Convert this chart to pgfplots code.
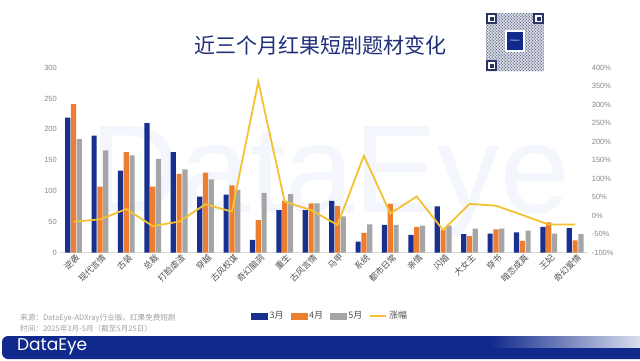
\documentclass[border=0pt]{standalone}
\usepackage{pgfplots}
\pgfplotsset{compat=1.18}
\usepackage{fontspec}
\setmainfont{Noto Sans CJK SC}
\newfontfamily\latin{Liberation Sans}
\newfontfamily\pop{Poppins}
\usetikzlibrary{fadings,patterns}
\definecolor{c3}{HTML}{18308F}
\definecolor{c4}{HTML}{ED7D31}
\definecolor{c5}{HTML}{A5A5A5}
\definecolor{cl}{HTML}{F2C230}
\definecolor{titlec}{HTML}{1F2F7A}
\definecolor{footc}{HTML}{10298C}
\definecolor{wm}{HTML}{F3F6FC}
\definecolor{xlab}{HTML}{505050}
\definecolor{ylab}{HTML}{8A8A8A}
\definecolor{srcc}{HTML}{A0A0A0}
\definecolor{qrc}{HTML}{2A3566}
\begin{document}
\begin{tikzpicture}
\path[use as bounding box] (0pt,0pt) rectangle (640pt,360pt);
\clip (0pt,0pt) rectangle (640pt,360pt);
\fill[white] (0pt,0pt) rectangle (640pt,360pt);
% watermark
\node[text=wm, font=\latin\fontsize{125}{125}\selectfont, anchor=center] at (330pt,178pt) {DataEye};
% title
\node[font=\fontsize{21}{24}\selectfont, text=titlec] at (320pt,315pt) {近三个月红果短剧题材变化};
% QR-like logo box
\fill[qrc!18] (486pt,289pt) rectangle (544pt,347pt);
\fill[pattern=crosshatch dots, pattern color=qrc!85] (486pt,289pt) rectangle (544pt,347pt);
\fill[pattern=dots, pattern color=qrc] (486pt,289pt) rectangle (544pt,347pt);
\foreach \xx/\yy in {486/336, 533/336, 486/289} {
  \fill[white] (\xx pt,\yy pt) rectangle ++(11pt,11pt);
  \draw[qrc, line width=1.4pt] (\xx pt+1pt,\yy pt+1pt) rectangle ++(9pt,9pt);
  \fill[qrc] (\xx pt+3.5pt,\yy pt+3.5pt) rectangle ++(4pt,4pt);
}
\fill[white] (505pt,308pt) rectangle (525pt,330pt);
\fill[footc] (507pt,310pt) rectangle (523pt,328pt);
\node[text=white, font=\latin\fontsize{2.5}{3}\selectfont] at (515pt,319pt) {DataEye};
% footer bar
\fill[footc, rounded corners=6pt] (2pt,1pt) rectangle (660pt,24pt);
\fill[white, path fading=west, opacity=0.85] (490pt,12pt) rectangle (640pt,25pt);
\node[anchor=west, text=white, font=\pop\fontsize{17}{18}\selectfont, inner sep=0pt] at (17pt,13pt) {DataEye};
% source
\node[anchor=west, text=srcc, font=\fontsize{7.6}{8}\selectfont, inner sep=0pt] at (20pt,42pt) {来源：DataEye-ADXray行业版、红果免费短剧};
\node[anchor=west, text=srcc, font=\fontsize{7.6}{8}\selectfont, inner sep=0pt] at (20pt,31pt) {时间：2025年3月-5月（截至5月25日）};

\begin{axis}[
  at={(60.3pt,107.3pt)}, anchor=south west,
  scale only axis, width=528pt, height=185pt,
  xmin=-0.5, xmax=19.5, ymin=0, ymax=300,
  axis x line*=bottom, axis y line*=left,
  y axis line style={draw=none},
  x axis line style={draw=gray!30, line width=0.6pt},
  tick style={draw=none},
  ytick={0,50,...,300},
  xtick={0,...,19},
  xticklabels={逆袭,现代言情,古装,总裁,打脸虐渣,穿越,古风权谋,奇幻脑洞,重生,古风言情,马甲,系统,都市日常,亲情,闪婚,大女主,穿书,暗恋成真,王妃,奇幻爱情},
  x tick label style={rotate=45, anchor=north east, font=\fontsize{8.5}{9}\selectfont, text=xlab, inner sep=1pt, xshift=2pt},
  y tick label style={font=\latin\fontsize{7.5}{8}\selectfont, text=ylab},
  /pgf/number format/assume math mode=true,
]
\addplot[ybar, bar width=5.2pt, bar shift=-5.8pt, fill=c3, draw=none] coordinates {
(0,219) (1,190) (2,133) (3,210) (4,163) (5,91) (6,94) (7,21) (8,69) (9,69)
(10,84) (11,18) (12,45) (13,29) (14,75) (15,30) (16,31) (17,33) (18,42) (19,40)};
\addplot[ybar, bar width=5.2pt, bar shift=0pt, fill=c4, draw=none] coordinates {
(0,241) (1,107) (2,163) (3,107) (4,128) (5,130) (6,109) (7,53) (8,84) (9,80)
(10,76) (11,32) (12,79) (13,42) (14,37) (15,27) (16,38) (17,19) (18,49) (19,20)};
\addplot[ybar, bar width=5.2pt, bar shift=5.8pt, fill=c5, draw=none] coordinates {
(0,184) (1,166) (2,158) (3,152) (4,135) (5,119) (6,102) (7,97) (8,95) (9,80)
(10,59) (11,46) (12,45) (13,44) (14,44) (15,39) (16,39) (17,36) (18,31) (19,30)};
\end{axis}

\begin{axis}[
  at={(60.3pt,107.3pt)}, anchor=south west,
  scale only axis, width=528pt, height=185pt,
  xmin=-0.5, xmax=19.5, ymin=-100, ymax=400,
  axis x line=none, axis y line*=right,
  y axis line style={draw=none},
  tick style={draw=none},
  ytick={-100,-50,...,400},
  yticklabel={\pgfmathprintnumber{\tick}\%},
  y tick label style={font=\latin\fontsize{7.5}{8}\selectfont, text=ylab},
  /pgf/number format/assume math mode=true,
  legend style={at={(0.511,-0.342)}, anchor=center, draw=none, fill=none,
    legend columns=4, font=\fontsize{9}{10}\selectfont, text=xlab,
    /tikz/every even column/.append style={column sep=5pt}},
]
\addlegendimage{legend image code/.code={\fill[c3] (0pt,-3pt) rectangle (16pt,3pt);}}
\addlegendentry{3月}
\addlegendimage{legend image code/.code={\fill[c4] (0pt,-3pt) rectangle (16pt,3pt);}}
\addlegendentry{4月}
\addlegendimage{legend image code/.code={\fill[c5] (0pt,-3pt) rectangle (16pt,3pt);}}
\addlegendentry{5月}
\addplot[cl, line width=1.8pt, mark=none,
  legend image code/.code={\draw[cl, line width=1.6pt] (0pt,0pt) -- (16pt,0pt);}] coordinates {
(0,-16) (1,-10) (2,18) (3,-28) (4,-16) (5,31) (6,11) (7,362) (8,38) (9,15)
(10,-25) (11,162) (12,6) (13,52) (14,-39) (15,32) (16,27) (17,2) (18,-24) (19,-24)};
\addlegendentry{涨幅}
\end{axis}
\end{tikzpicture}
\end{document}
